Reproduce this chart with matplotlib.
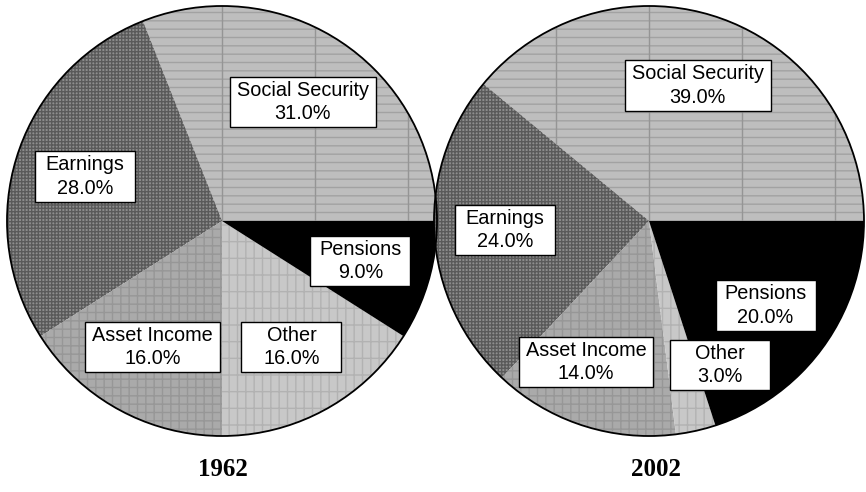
import matplotlib.pyplot as plt
from matplotlib.patches import Circle, Rectangle

categories = ['Social Security', 'Earnings', 'Asset Income', 'Other', 'Pensions']
shares_1962 = [31.0, 28.0, 16.0, 16.0, 9.0]
shares_2002 = [39.0, 24.0, 14.0, 3.0, 20.0]
years = ['1962', '2002']

# grey fills with a hatch texture on top (hatch colour comes from the edge colour)
face_colors = ['#bebebe', '#8e8e8e', '#aaaaaa', '#c8c8c8', '#000000']
hatch_colors = ['#a2a2a2', '#5a5a5a', '#979797', '#b2b2b2', '#000000']
hatches = ['--', '+++++', '++', '||-', None]

plt.rcParams['hatch.linewidth'] = 1.0

fig = plt.figure(figsize=(8.66, 4.92), dpi=100)
ax = fig.add_axes([0, 0, 1, 1])
ax.set_xlim(0, 866)
ax.set_ylim(0, 492)

centers = [(222, 271), (649, 271)]
radius = 215
title_x = [223, 656]
all_texts = []


def draw_pie(shares, center, title_xpos, year, moved=None):
    labels = [f'{c}\n{v:.1f}%' for c, v in zip(categories, shares)]
    wedges, texts = ax.pie(shares, labels=labels, startangle=0, counterclock=True,
                           center=center, radius=radius, labeldistance=0.67,
                           frame=True,
                           wedgeprops=dict(linewidth=0))
    for w, fc, hc, h in zip(wedges, face_colors, hatch_colors, hatches):
        w.set_facecolor(fc)
        w.set_edgecolor(hc)
        if h:
            w.set_hatch(h)
    # faint vertical rules through the Social Security slice
    for x in range(center[0] - 186, center[0] + radius, 93):
        ln, = ax.plot([x, x], [center[1] - radius, center[1] + radius],
                      color='#959595', lw=1.0, zorder=wedges[0].get_zorder() + 0.1)
        ln.set_clip_path(wedges[0])
    ax.add_patch(Circle(center, radius, fill=False, ec='black', lw=1.3, zorder=3))
    for t in texts:
        t.set_ha('center')
        t.set_va('center')
        t.set_multialignment('center')
        t.set_linespacing(1.3)
        t.set_fontsize(14.3)
        t.set_family('Liberation Sans')
        t.set_zorder(5)
    if moved:
        for i, (dx, dy) in moved.items():
            texts[i].set_position((center[0] + dx, center[1] + dy))
    all_texts.extend(texts)
    ax.text(title_xpos, 22, year, ha='center', va='center', fontsize=18,
            fontweight='bold', family='Liberation Serif')


draw_pie(shares_1962, centers[0], title_x[0], years[0])
draw_pie(shares_2002, centers[1], title_x[1], years[1],
         moved={2: (-63, -141), 3: (71, -144)})

ax.set_xlim(0, 866)
ax.set_ylim(0, 492)
ax.set_aspect('equal')
ax.axis('off')

# white label boxes, at least 100 px wide
fig.canvas.draw()
inv = ax.transData.inverted()
for t in all_texts:
    bb = t.get_window_extent().transformed(inv)
    cx, cy = t.get_position()
    w = max(bb.width + 14, 100)
    h = bb.height + 8
    ax.add_patch(Rectangle((cx - w / 2, cy - h / 2), w, h, fc='white', ec='black',
                           lw=1, zorder=4.5))

fig.savefig('out.png', dpi=100)
